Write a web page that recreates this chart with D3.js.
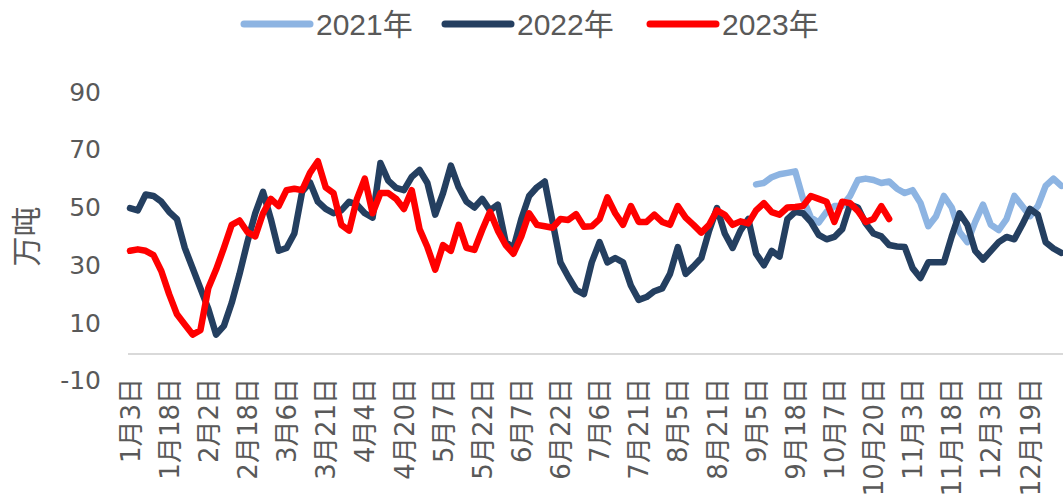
<!DOCTYPE html>
<html>
<head>
<meta charset="utf-8">
<script src="https://cdn.jsdelivr.net/npm/d3@7"></script>
<style>
  body { margin: 0; background: #fff; }
  svg { display: block; }
</style>
</head>
<body>
<svg id="chart" width="1063" height="498"></svg>
<script>
// x labels, one every 5 points
const tickLabels = [
  "1月3日", "1月18日", "2月2日", "2月18日", "3月6日", "3月21日",
  "4月4日", "4月20日", "5月7日", "5月22日", "6月7日", "6月22日",
  "7月6日", "7月21日", "8月5日", "8月21日", "9月5日", "9月18日",
  "10月7日", "10月20日", "11月3日", "11月18日", "12月3日", "12月19日"
];
const pointsPerLabel = 5;
const yTicks = [-10, 10, 30, 50, 70, 90];
const seriesNames = ["2021年", "2022年", "2023年"];
const seriesColors = ["#8db4e2", "#243f60", "#ff0000"];

// 2021 only starts at 9月5日 (point 80)
const offset2021 = 80;
const values2021 = [
  58, 58.5, 60.5, 61.5, 62, 62.5, 53, 46.5, 44.8, 48.5,
  50.5, 50.5, 54, 59.5, 60, 59.5, 58.5, 59, 56.5, 55,
  56, 51.6, 43.5, 47, 54, 50, 41.5, 38, 45, 51,
  44, 42.2, 46, 54, 50.5, 47, 50.5, 57.5, 60, 57.5
];

const values2022 = [
  49.8, 49, 54.5, 54, 52, 48.5, 46, 36, 29, 22,
  15, 6, 9, 17, 27, 38, 48, 55.4, 46, 35,
  36, 41, 55.5, 58.7, 52, 49.5, 48, 49, 52, 51,
  48, 46.5, 65.4, 59.3, 56.8, 56, 60.6, 63, 58.5, 47.5,
  55, 64.5, 57, 52, 50, 53, 49, 51, 38, 36,
  46, 54, 57, 59, 45, 31, 26, 21.5, 20, 31,
  38, 31, 32.5, 31, 23, 18, 19, 21, 22, 27,
  36.3, 27, 29.6, 32.5, 42, 49.8, 41, 36, 42, 46,
  34, 30, 35, 33, 46, 48.5, 48, 45, 40.5, 39,
  39.8, 42.5, 51, 50, 44.5, 41, 40, 37, 36.5, 36.3,
  29, 25.6, 31, 31, 31, 40, 48, 44, 35, 32,
  35, 38, 39.8, 39, 44, 49.5, 47.5, 38, 35.8, 34.3
];

const values2023 = [
  35, 35.5, 35, 33.5, 28, 20, 13, 9.5, 6, 7.5,
  22, 28.5, 36, 44, 45.5, 41.5, 40, 48, 53, 50.5,
  56, 56.5, 56, 62, 66, 57, 55, 44, 42, 53,
  60, 48, 55, 55, 53, 49.5, 56, 42.5, 36.3, 28.5,
  37, 35, 44, 36, 35.3, 42.2, 48.5, 42, 37, 34,
  40, 48, 44, 43.5, 43, 46, 45.7, 47.7, 43.3, 43.5,
  46, 53.5, 48, 44, 50.5, 45, 45, 47.5, 45, 44,
  50.5, 46.5, 44, 41.3, 44, 49, 47.5, 44, 45.2, 44.5,
  49, 51.5, 48.4, 47.5, 50, 50.2, 50.5, 54, 53, 52,
  45, 52, 51.5, 48.8, 45, 46, 50.5, 46
];

const textColor = "#595959";
const svg = d3.select("#chart");

const x = d3.scaleLinear()
  .domain([0, (tickLabels.length - 1) * pointsPerLabel])
  .range([130, 1030]);

const y = d3.scaleLinear()
  .domain([-10, 90])
  .range([380.75, 92]);

// horizontal axis line
svg.append("line")
  .attr("x1", 128)
  .attr("x2", 1063)
  .attr("y1", y(0) + 2)
  .attr("y2", y(0) + 2)
  .attr("stroke", "#d9d9d9")
  .attr("stroke-width", 2);

// x labels
const xAxis = d3.axisBottom(x)
  .tickValues(tickLabels.map((d, i) => i * pointsPerLabel))
  .tickFormat((d, i) => tickLabels[i])
  .tickSize(0);

const gx = svg.append("g")
  .attr("transform", "translate(0,378)")
  .call(xAxis);
gx.select(".domain").remove();
gx.selectAll("text")
  .attr("x", 0)
  .attr("y", 0)
  .attr("dy", "0.35em")
  .attr("transform", "rotate(-90)")
  .style("text-anchor", "end")
  .style("font-family", "'DejaVu Sans', 'Noto Sans CJK SC', sans-serif")
  .style("font-size", "26px")
  .attr("fill", textColor);

// y labels (plain hyphen for the negative tick)
const yAxis = d3.axisLeft(y)
  .tickValues(yTicks)
  .tickFormat((d) => String(d))
  .tickSize(0)
  .tickPadding(2);
const gy = svg.append("g")
  .attr("transform", "translate(103,0)")
  .call(yAxis);
gy.select(".domain").remove();
gy.selectAll("text")
  .style("font-family", "'DejaVu Sans', sans-serif")
  .style("font-size", "25px")
  .attr("fill", textColor);

// y title
svg.append("text")
  .attr("transform", "translate(26," + y(40) + ") rotate(-90)")
  .attr("dy", "0.35em")
  .style("text-anchor", "middle")
  .style("font-family", "'Noto Sans CJK SC', sans-serif")
  .style("font-size", "30px")
  .attr("fill", textColor)
  .text("万吨");

// lines
const line = (offset) => d3.line()
  .x((d, i) => x(i + offset))
  .y((d) => y(d));

const allSeries = [
  { values: values2021, offset: offset2021 },
  { values: values2022, offset: 0 },
  { values: values2023, offset: 0 }
];

svg.selectAll(".series")
  .data(allSeries)
  .enter()
  .append("path")
  .attr("class", "series")
  .attr("d", (d) => line(d.offset)(d.values))
  .attr("fill", "none")
  .attr("stroke", (d, i) => seriesColors[i])
  .attr("stroke-width", 6.5)
  .attr("stroke-linejoin", "round")
  .attr("stroke-linecap", "round");

// legend
const legendX = [244, 445, 650];
const legend = svg.selectAll(".legend")
  .data(seriesNames)
  .enter()
  .append("g")
  .attr("class", "legend")
  .attr("transform", (d, i) => "translate(" + legendX[i] + ",24)");

legend.append("line")
  .attr("x1", 0)
  .attr("x2", 66)
  .attr("stroke", (d, i) => seriesColors[i])
  .attr("stroke-width", 7)
  .attr("stroke-linecap", "round");

legend.append("text")
  .attr("x", 72)
  .attr("dy", "0.36em")
  .style("font-family", "'Liberation Sans', 'Noto Sans CJK SC', sans-serif")
  .style("font-size", "30px")
  .attr("fill", textColor)
  .text((d) => d);
</script>
</body>
</html>
